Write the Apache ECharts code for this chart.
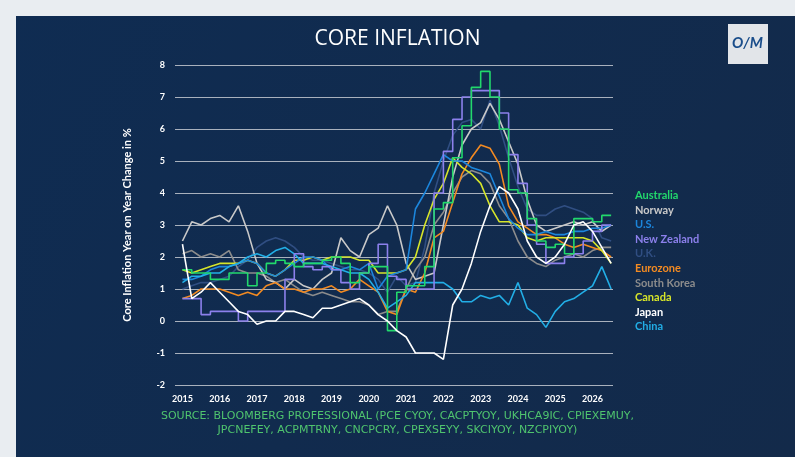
<!DOCTYPE html>
<html><head><meta charset="utf-8">
<script src="https://cdn.jsdelivr.net/npm/echarts@6/dist/echarts.min.js"></script>
<style>html,body{margin:0;padding:0;background:#f4f6f8;}#c{width:795px;height:457px;}</style>
</head><body><div id="c"></div>
<script>
const startYear = 2015;
const yearTicks = [2015,2016,2017,2018,2019,2020,2021,2022,2023,2024,2025,2026];
const australia = [1.6,1.5,1.5,1.3, 1.3,1.5,1.5,1.1, 1.5,1.8,1.9,1.8, 1.7,1.8,1.8,1.9, 2.0,1.8,1.2,1.5, 1.7,1.7,-0.3,0.9, 1.1,1.1,1.7,3.5, 3.7,5.1,6.1,7.3, 7.8,7.0,6.0,4.1, 4.0,3.2,2.5,2.3, 2.4,2.1,3.2,3.2, 3.1,3.3,3.3];
const norway = [2.5,3.1,3.0,3.2, 3.3,3.1,3.6,2.8, 1.8,1.3,1.2,1.0, 1.3,1.1,1.0,1.3, 1.5,2.6,2.2,2.0, 2.7,2.9,3.6,3.0, 1.8,1.3,1.4,1.5, 3.0,4.5,5.5,6.0, 6.2,6.8,6.3,5.6, 4.9,3.8,3.0,2.8, 2.9,3.0,3.1,3.0, 3.1,2.8,3.0];
const us = [1.3,1.3,1.4,1.6, 1.7,1.7,1.8,1.9, 1.8,1.5,1.4,1.6, 1.8,2.0,2.0,1.9, 1.6,1.6,1.7,1.6, 1.8,1.0,1.4,1.5, 1.6,3.5,4.0,4.6, 5.2,5.0,5.0,4.8, 4.7,4.6,3.9,3.2, 2.9,2.7,2.7,2.8, 2.7,2.7,2.8,2.8, 2.9,2.9,3.0];
const nz = [0.7,0.7,0.2,0.3, 0.3,0.3,0.0,0.3, 0.3,0.3,0.3,1.3, 2.1,1.7,1.6,1.7, 1.6,1.2,1.0,1.5, 1.8,2.4,1.4,1.3, 1.0,1.0,1.0,4.0, 5.3,6.3,7.0,7.2, 7.2,7.2,6.5,5.2, 4.3,3.0,2.4,1.8, 1.8,2.0,2.1,2.5, 2.8,3.0,3.0];
const uk = [1.0,1.1,1.2,1.2, 1.3,1.4,1.7,1.9, 2.3,2.5,2.6,2.5, 2.3,2.0,1.9,1.9, 1.8,1.7,1.6,1.6, 1.5,1.3,0.9,1.4, 1.1,1.2,2.3,4.0, 5.0,5.8,6.2,6.3, 6.0,6.9,6.1,5.1, 4.2,3.5,3.3,3.3, 3.5,3.6,3.5,3.4, 3.2,2.6,2.5];
const eurozone = [0.7,0.8,1.0,1.0, 1.0,0.9,0.8,0.9, 0.8,1.1,1.2,1.0, 1.0,0.9,1.0,1.0, 1.1,0.9,1.0,1.3, 1.1,0.9,0.3,0.2, 1.0,0.9,1.5,2.6, 2.8,3.7,4.6,5.1, 5.5,5.4,4.9,3.6, 3.1,2.9,2.7,2.7, 2.6,2.4,2.3,2.4, 2.3,2.2,2.0];
const southKorea = [2.1,2.2,2.0,2.1, 2.0,2.2,1.6,1.5, 1.5,1.4,1.2,1.3, 1.1,0.9,0.8,0.9, 0.8,0.7,0.6,0.6, 0.5,0.2,0.3,0.3, 1.0,1.6,2.0,3.0, 3.4,4.0,4.5,4.7, 4.6,4.3,3.6,3.2, 2.5,2.0,1.8,1.7, 1.9,2.0,2.1,2.0, 2.2,2.3,2.3];
const canada = [1.6,1.5,1.6,1.7, 1.8,1.8,1.8,1.9, 1.8,1.5,1.4,1.6, 1.9,1.9,2.0,1.9, 2.0,2.0,2.0,1.9, 1.9,1.5,1.5,1.5, 1.6,2.0,3.0,3.8, 4.3,5.1,4.8,4.6, 4.3,3.6,3.1,3.1, 3.0,2.6,2.5,2.6, 2.6,2.6,2.6,2.6, 2.5,2.2,1.8];
const japan = [2.4,0.7,0.9,1.2, 0.9,0.6,0.3,0.2, -0.1,0.0,0.0,0.3, 0.3,0.2,0.1,0.4, 0.4,0.5,0.6,0.7, 0.5,0.2,0.0,-0.3, -0.5,-1.0,-1.0,-1.0, -1.2,0.5,1.0,1.8, 2.8,3.6,4.2,4.0, 3.5,2.5,2.0,1.8, 2.0,2.4,3.0,3.1, 2.8,2.3,1.8];
const china = [1.2,1.4,1.4,1.5, 1.5,1.7,1.8,2.0, 2.1,2.0,2.2,2.3, 2.1,1.8,1.8,1.8, 1.7,1.6,1.5,1.5, 1.3,0.9,0.4,0.6, 0.8,1.2,1.2,1.2, 1.2,1.0,0.6,0.6, 0.8,0.7,0.8,0.5, 1.2,0.4,0.2,-0.2, 0.3,0.6,0.7,0.9, 1.1,1.7,1.0];
const seriesNames = ['Australia','Norway','U.S.','New Zealand','U.K.','Eurozone','South Korea','Canada','Japan','China'];

const colors = {'Australia':'#22d86c','Norway':'#c9c9c9','U.S.':'#1c86dc','New Zealand':'#8c80ec','U.K.':'#304e82','Eurozone':'#f28a22','South Korea':'#8c8c8c','Canada':'#d6e52a','Japan':'#ffffff','China':'#22aee6'};
const dataMap = {'Australia':australia,'Norway':norway,'U.S.':us,'New Zealand':nz,'U.K.':uk,'Eurozone':eurozone,'South Korea':southKorea,'Canada':canada,'Japan':japan,'China':china};
const stepped = {'Australia':true,'New Zealand':true};
const drawOrder = ['U.K.','South Korea','Norway','Eurozone','Canada','U.S.','China','New Zealand','Australia','Japan'];

const chart = echarts.init(document.getElementById('c'));
const series = drawOrder.map(n => ({
  name:n, type:'line', showSymbol:false, symbol:'none',
  step: stepped[n] ? 'end' : false,
  lineStyle:{width:1.6, color:colors[n]}, itemStyle:{color:colors[n]},
  data: dataMap[n].map((v,i)=>[startYear + i*0.25, v])
}));
chart.setOption({
  backgroundColor: new echarts.graphic.LinearGradient(0,0,1,1,[{offset:0,color:'#0f2c52'},{offset:1,color:'#132a4a'}]),
  animation:false,
  title:{text:'CORE INFLATION', left:'center', top:24, textStyle:{color:'#ffffff', fontSize:21, fontWeight:'normal', fontFamily:'Open Sans'}},
  grid:{left:175, right:182, top:65, bottom:72},
  legend:{orient:'vertical', left:630, top:185, icon:'none', itemGap:3.6, itemWidth:0, itemHeight:10,
    selectedMode:false,
    textStyle:{fontSize:11, fontWeight:'bold', fontFamily:'Lato', padding:[0,0,0,-6]},
    data: seriesNames.map(n=>({name:n, textStyle:{color: n==='Japan' ? '#ffffff' : colors[n]}}))},
  xAxis:{type:'value', min:2014.8, max:2026.55,
    axisLine:{show:false}, axisTick:{show:false}, splitLine:{show:false},
    axisLabel:{customValues:yearTicks, formatter:v=>String(v), color:'#ffffff', fontSize:9, fontWeight:'bold', fontFamily:'Lato', margin:10}},
  yAxis:{type:'value', min:-2, max:8, interval:1,
    name:'Core Inflation Year on Year Change in %', nameLocation:'middle', nameGap:42,
    nameTextStyle:{color:'#ffffff', fontSize:11, fontWeight:'bold', fontFamily:'Lato'},
    axisLine:{show:false}, axisTick:{show:false},
    axisLabel:{color:'#ffffff', fontSize:9, fontWeight:'bold', fontFamily:'Lato', margin:10},
    splitLine:{lineStyle:{color:'#a9b1bd', width:1.2}}},
  graphic:[
    {type:'rect', left:0, top:0, shape:{width:795,height:457}, style:{fill:'none', stroke:'#e9edf1', lineWidth:16}, z:-1, silent:true},
    {type:'rect', left:728, top:24, shape:{width:40,height:40}, style:{fill:'rgba(255,255,255,0.88)'}},
    {type:'text', left:732, top:36, style:{text:'O/M', fill:'#1a4d8a', font:'bold italic 15px Lato'}},
    {type:'text', left:'center', top:409, style:{text:'SOURCE: BLOOMBERG PROFESSIONAL (PCE CYOY, CACPTYOY, UKHCA9IC, CPIEXEMUY,\nJPCNEFEY, ACPMTRNY, CNCPCRY, CPEXSEYY, SKCIYOY, NZCPIYOY)', fill:'#4fc46e', font:'11px "DejaVu Sans"', textAlign:'center', lineHeight:14}}
  ],
  series: series
});
</script></body></html>
